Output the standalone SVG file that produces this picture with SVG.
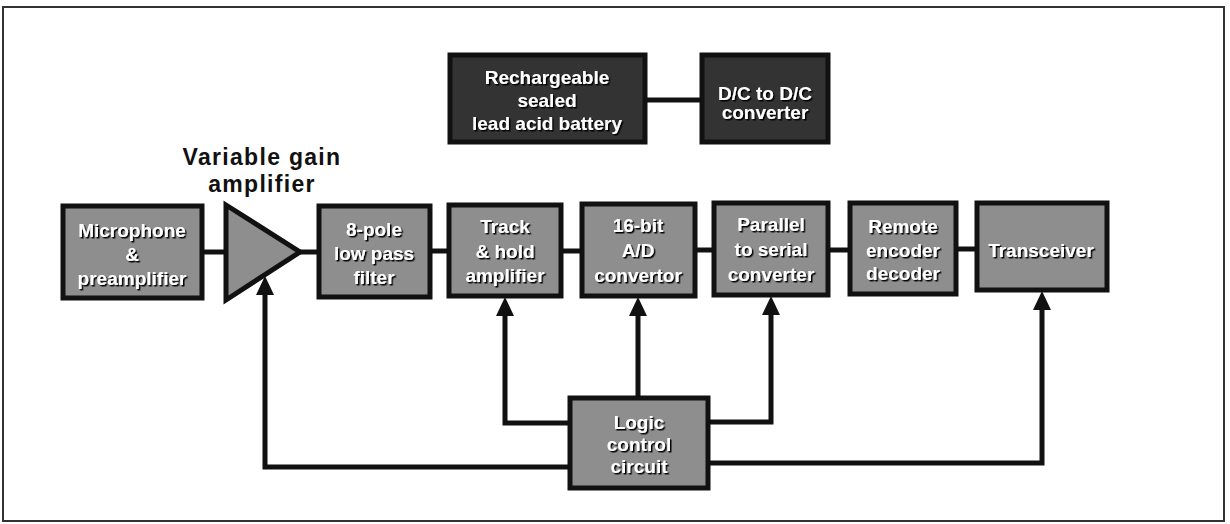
<svg xmlns="http://www.w3.org/2000/svg" width="1230" height="524" viewBox="0 0 1230 524">
<style>
.box{fill:#8e8e8e;stroke:#111;stroke-width:5}
.dark{fill:#333;stroke:#111;stroke-width:5}
.t{font-family:"Liberation Sans",Arial,sans-serif;font-weight:bold;font-size:19px;fill:#fff;text-anchor:middle;filter:url(#sh)}
.lbl{font-family:"Liberation Sans",Arial,sans-serif;font-weight:bold;font-size:23px;fill:#111;text-anchor:middle;letter-spacing:1.3px}
.w{fill:none;stroke:#111;stroke-width:5}
.a{fill:none;stroke:#111;stroke-width:5;marker-end:url(#ah)}
</style>
<defs>
<filter id="sh" x="-10%" y="-20%" width="120%" height="150%">
<feDropShadow dx="1.5" dy="1.5" stdDeviation="0.3" flood-color="#000" flood-opacity="1"/>
</filter>
<marker id="ah" viewBox="0 0 20 20" markerWidth="20" markerHeight="20" refX="3" refY="10" orient="auto" markerUnits="userSpaceOnUse">
<path d="M0,1 L19,10 L0,19 z" fill="#111"/>
</marker>
</defs>
<rect x="3" y="7" width="1221" height="514" fill="#fff" stroke="#333" stroke-width="2"/>

<g id="connectors">
<line class="w" x1="645" y1="100" x2="702" y2="100"/>
<line class="w" x1="202" y1="252" x2="226" y2="252"/>
<line class="w" x1="298" y1="252" x2="319" y2="252"/>
<line class="w" x1="430" y1="251" x2="449" y2="251"/>
<line class="w" x1="561" y1="251" x2="582" y2="251"/>
<line class="w" x1="695" y1="250" x2="714" y2="250"/>
<line class="w" x1="828" y1="250" x2="850" y2="250"/>
<line class="w" x1="956" y1="249" x2="977" y2="249"/>
<path class="a" d="M571,467 H265 V292"/>
<path class="a" d="M571,423 H505 V313"/>
<path class="a" d="M638,398 V313"/>
<path class="a" d="M706,422 H771 V312"/>
<path class="a" d="M706,463 H1042 V307"/>
</g>

<g id="battery">
<rect class="dark" x="450" y="55" width="195" height="87"/>
<text class="t" x="547" y="84">Rechargeable</text>
<text class="t" x="547" y="107">sealed</text>
<text class="t" x="547" y="130">lead acid battery</text>
</g>
<g id="dcdc">
<rect class="dark" x="702" y="55" width="126" height="87"/>
<text class="t" x="765" y="100">D/C to D/C</text>
<text class="t" x="765" y="119">converter</text>
</g>

<g id="vga-label">
<text class="lbl" x="262" y="165">Variable gain</text>
<text class="lbl" x="262" y="192">amplifier</text>
</g>

<g id="microphone">
<rect class="box" x="63" y="206" width="139" height="92"/>
<text class="t" x="132" y="237">Microphone</text>
<text class="t" x="132" y="261">&amp;</text>
<text class="t" x="132" y="285">preamplifier</text>
</g>
<g id="amplifier">
<polygon class="box" points="226,205 300,252 226,300"/>
</g>
<g id="filter">
<rect class="box" x="319" y="206" width="111" height="91"/>
<text class="t" x="374" y="236">8-pole</text>
<text class="t" x="374" y="260">low pass</text>
<text class="t" x="374" y="284">filter</text>
</g>
<g id="trackhold">
<rect class="box" x="449" y="205" width="112" height="91"/>
<text class="t" x="505" y="233">Track</text>
<text class="t" x="505" y="258">&amp; hold</text>
<text class="t" x="505" y="282">amplifier</text>
</g>
<g id="adc">
<rect class="box" x="582" y="204" width="113" height="92"/>
<text class="t" x="638" y="232">16-bit</text>
<text class="t" x="638" y="257">A/D</text>
<text class="t" x="638" y="282">convertor</text>
</g>
<g id="p2s">
<rect class="box" x="714" y="203" width="114" height="92"/>
<text class="t" x="771" y="231">Parallel</text>
<text class="t" x="771" y="256">to serial</text>
<text class="t" x="771" y="281">converter</text>
</g>
<g id="remote">
<rect class="box" x="850" y="203" width="106" height="91"/>
<text class="t" x="903" y="233">Remote</text>
<text class="t" x="903" y="257">encoder</text>
<text class="t" x="903" y="280">decoder</text>
</g>
<g id="transceiver">
<rect class="box" x="977" y="203" width="130" height="87"/>
<text class="t" x="1041" y="257">Transceiver</text>
</g>
<g id="logic">
<rect class="box" x="570" y="398" width="138" height="90"/>
<text class="t" x="639" y="429">Logic</text>
<text class="t" x="639" y="451">control</text>
<text class="t" x="639" y="473">circuit</text>
</g>
</svg>
